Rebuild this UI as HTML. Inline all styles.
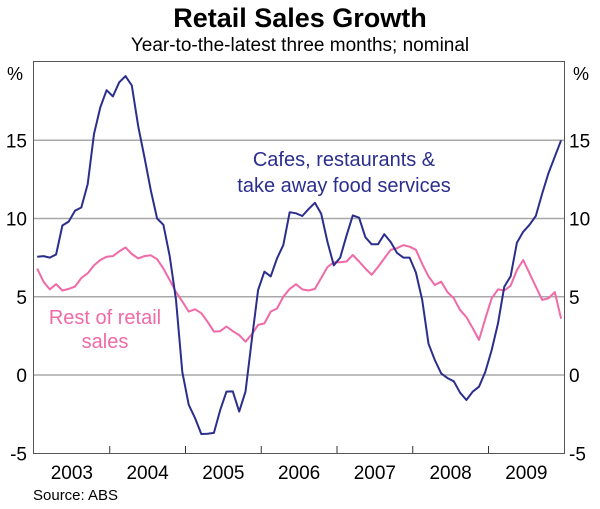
<!DOCTYPE html>
<html><head><meta charset="utf-8"><style>
html,body{margin:0;padding:0;background:#fff;}
svg{display:block;font-family:"Liberation Sans",Arial,sans-serif;}
</style></head><body>
<svg id="chart" width="600" height="509" viewBox="0 0 600 509">
<text x="300" y="27" text-anchor="middle" font-size="27" font-weight="bold">Retail Sales Growth</text>
<text x="300" y="51" text-anchor="middle" font-size="19">Year-to-the-latest three months; nominal</text>
<text x="7" y="80" font-size="18">%</text>
<text x="573" y="80" font-size="18">%</text>
<g id="grid"></g>
<g id="series"></g>
<rect x="33.5" y="61.5" width="531" height="392" fill="none" stroke="#555" stroke-width="1"/>
<g id="xaxis"></g>
<text x="344" y="166" text-anchor="middle" font-size="20" fill="#2b2e8c">Cafes, restaurants &amp;</text>
<text x="344" y="192" text-anchor="middle" font-size="20" fill="#2b2e8c">take away food services</text>
<text x="105" y="324" text-anchor="middle" font-size="20" fill="#f06aa8">Rest of retail</text>
<text x="105" y="348" text-anchor="middle" font-size="20" fill="#f06aa8">sales</text>
<text x="33" y="500" font-size="15">Source: ABS</text>
</svg>
<script>
const years = [2003,2004,2005,2006,2007,2008,2009];
const yTicks = [-5,0,5,10,15];
const cafes = [7.56,7.6,7.5,7.7,9.55,9.8,10.5,10.7,12.2,15.4,17.1,18.2,17.8,18.7,19.1,18.5,15.9,13.9,11.8,10.0,9.6,7.6,4.8,0.2,-1.9,-2.75,-3.77,-3.75,-3.7,-2.24,-1.06,-1.05,-2.34,-1.06,2.24,5.43,6.6,6.3,7.45,8.3,10.4,10.33,10.16,10.6,11.0,10.3,8.5,7.0,7.5,8.9,10.2,10.05,8.8,8.35,8.35,9.0,8.5,7.8,7.5,7.5,6.55,4.8,2.0,0.96,0.1,-0.2,-0.4,-1.13,-1.6,-1.07,-0.75,0.2,1.6,3.3,5.65,6.3,8.45,9.15,9.6,10.16,11.6,12.9,13.95,15.0];
const rest = [6.8,5.96,5.47,5.8,5.4,5.5,5.65,6.2,6.5,7.0,7.35,7.56,7.6,7.9,8.15,7.73,7.45,7.6,7.65,7.4,6.8,6.07,5.3,4.7,4.05,4.2,3.95,3.4,2.77,2.8,3.1,2.8,2.55,2.13,2.6,3.2,3.3,4.05,4.25,5.0,5.5,5.8,5.47,5.4,5.5,6.2,6.9,7.2,7.2,7.25,7.67,7.25,6.8,6.4,6.9,7.45,8.0,8.1,8.3,8.2,8.0,7.1,6.3,5.75,5.96,5.3,4.9,4.15,3.7,3.0,2.24,3.6,4.9,5.47,5.4,5.7,6.7,7.35,6.5,5.65,4.8,4.9,5.3,3.6];
const NS='http://www.w3.org/2000/svg';
const x0=34, yearW=75.75;
function xm(i){return x0+(i+0.5)*yearW/12;}
function yv(v){return 375-v*15.65;}
const grid=document.getElementById('grid'), xa=document.getElementById('xaxis'), ser=document.getElementById('series');
yTicks.forEach(t=>{
  if(t>-5){
    const l=document.createElementNS(NS,'line');
    l.setAttribute('x1',34);l.setAttribute('x2',564);l.setAttribute('y1',yv(t));l.setAttribute('y2',yv(t));
    l.setAttribute('stroke','#a8a8a8');l.setAttribute('stroke-width','1.5');
    
    
    grid.appendChild(l);
  }
  [[27,'end'],[569,'start']].forEach(([x,a])=>{
    const tx=document.createElementNS(NS,'text');
    tx.setAttribute('x',x);tx.setAttribute('y',yv(t)+7);tx.setAttribute('text-anchor',a);tx.setAttribute('font-size','19');
    tx.textContent=t;
    
    
    grid.appendChild(tx);
  });
});
years.forEach((y,k)=>{
  const tx=document.createElementNS(NS,'text');
  tx.setAttribute('x',x0+(k+0.5)*yearW);tx.setAttribute('y',479);tx.setAttribute('text-anchor','middle');tx.setAttribute('font-size','19');
  tx.textContent=y;
  
  
  xa.appendChild(tx);
  if(k>0){
    const l=document.createElementNS(NS,'line');
    l.setAttribute('x1',x0+k*yearW);l.setAttribute('x2',x0+k*yearW);l.setAttribute('y1',446);l.setAttribute('y2',453);
    l.setAttribute('stroke','#333');
    
    
    xa.appendChild(l);
  }
});
function line(data,color,name){
  const p=document.createElementNS(NS,'polyline');
  p.setAttribute('points',data.map((v,i)=>xm(i).toFixed(1)+','+yv(v).toFixed(1)).join(' '));
  p.setAttribute('fill','none');p.setAttribute('stroke',color);p.setAttribute('stroke-width','2');p.setAttribute('stroke-linejoin','round');
  
  
  ser.appendChild(p);
}
line(rest,'#f06aa8','rest-of-retail-line');
line(cafes,'#2b2e8c','cafes-restaurants-line');
</script>
</body></html>
